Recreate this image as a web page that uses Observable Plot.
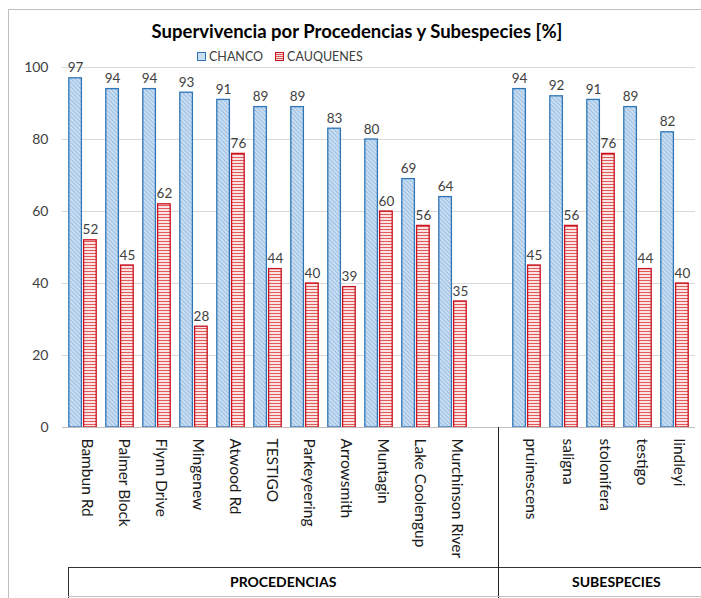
<!DOCTYPE html>
<html><head><meta charset="utf-8">
<script src="https://cdn.jsdelivr.net/npm/d3@7"></script>
<script src="https://cdn.jsdelivr.net/npm/@observablehq/plot@0.6"></script>
<style>
body{margin:0;background:#fff;font-family:Lato,"Open Sans",sans-serif;}
#wrap{position:relative;width:701px;height:598px;overflow:hidden;background:#fff}
#wrap svg{position:absolute;left:0;top:0}
.abs{position:absolute}
#frame{left:8px;top:9px;width:720px;height:600px;border:1px solid #bfbfbf;box-sizing:border-box}
#title{left:8px;width:698px;top:20px;text-align:center;font-weight:bold;font-size:18.5px;color:#000}
#legend{left:197px;top:49px;font-size:12.5px;color:#404040;display:flex;align-items:center;gap:3px}
#legend .sw{width:8px;height:8px;display:inline-block}
.grp{font-weight:bold;font-size:14px;color:#000;top:573px;transform:translateX(-50%)}
</style></head>
<body><div id="wrap">
<div id="frame" class="abs"></div>
</div>
<script>
const title = "Supervivencia por Procedencias y Subespecies [%]";
const seriesNames = ["CHANCO", "CAUQUENES"];
const procedencias = ["Bambun Rd","Palmer Block","Flynn Drive","Mingenew","Atwood Rd","TESTIGO","Parkeyeering","Arrowsmith","Muntagin","Lake Coolengup","Murchinson River"];
const subespecies = ["pruinescens","saligna","stolonifera","testigo","lindleyi"];
const chanco = [97,94,94,93,91,89,89,83,80,69,64, 94,92,91,89,82];
const cauquenes = [52,45,62,28,76,44,40,39,60,56,35, 45,56,76,44,40];
const groupNames = ["PROCEDENCIAS","SUBESPECIES"];
const yTicks = [0,20,40,60,80,100];

const blank = " ";
const categories = [...procedencias, ...subespecies];
const domain = [...procedencias, blank, ...subespecies];
const rows = categories.map((c,i)=>({cat:c, chanco:chanco[i], cauquenes:cauquenes[i]}));

const W = 701, H = 598;
const plot = Plot.plot({
  width: W, height: H,
  marginTop: 67, marginBottom: 171, marginLeft: 62, marginRight: 6,
  style: {fontFamily: "Lato, 'Open Sans', sans-serif", background: "transparent"},
  x: {domain, padding: 0, axis: null},
  y: {domain: [0,100], axis: null},
  marks: [
    Plot.gridY(yTicks, {stroke:"#d9d9d9", strokeOpacity:1, strokeWidth:1.2}),
    Plot.axisY(yTicks, {tickSize:0, tickPadding:14, fontSize:14, color:"#404040", textStroke:"none"}),
    Plot.barY(rows, {x:"cat", y:"chanco", insetLeft:4.8, insetRight:19.6, fill:"url(#hatchBlue)", stroke:"#2e75b6", strokeWidth:1.3}),
    Plot.barY(rows, {x:"cat", y:"cauquenes", insetLeft:19.6, insetRight:4.8, fill:"url(#linesRed)", stroke:"#c8101e", strokeWidth:1.3}),
    Plot.ruleY([0], {stroke:"#c0c0c0", strokeWidth:1.2}),
    Plot.text(rows, {x:"cat", y:"chanco", text:d=>String(d.chanco), dx:-7.4, dy:-6, lineAnchor:"bottom", fontSize:13.5, fill:"#404040"}),
    Plot.text(rows, {x:"cat", y:"cauquenes", text:d=>String(d.cauquenes), dx:7.4, dy:-6, lineAnchor:"bottom", fontSize:13.5, fill:"#404040"}),
    Plot.text(rows, {x:"cat", frameAnchor:"bottom", text:"cat", rotate:90, textAnchor:"start", lineAnchor:"middle", dx:4, dy:11, fontSize:15.5, fill:"#1a1a1a"})
  ]
});

// patterns
const ns = "http://www.w3.org/2000/svg";
const defs = document.createElementNS(ns, "defs");
defs.innerHTML = `
<pattern id="hatchBlue" patternUnits="userSpaceOnUse" width="3" height="3" patternTransform="rotate(-45)">
  <rect width="3" height="3" fill="#c9def2"/>
  <line x1="0" y1="0" x2="0" y2="3" stroke="#6d9fd2" stroke-width="1"/>
</pattern>
<pattern id="linesRed" patternUnits="userSpaceOnUse" width="4" height="3">
  <rect width="4" height="3" fill="#fbe3e3"/>
  <line x1="0" y1="1.5" x2="4" y2="1.5" stroke="#e05a5a" stroke-width="1"/>
</pattern>`;
plot.insertBefore(defs, plot.firstChild);

const wrap = document.getElementById("wrap");
wrap.appendChild(plot);

// Title
const t = document.createElement("div");
t.className = "abs"; t.id = "title"; t.textContent = title;
wrap.appendChild(t);

// Legend
const lg = document.createElement("div");
lg.className = "abs"; lg.id = "legend";
const swStyles = [
  "background:#c9def2;border:1px solid #2e75b6",
  "background:repeating-linear-gradient(#fbe3e3 0 1px,#e05a5a 1px 2px);border:1px solid #c8101e"
];
seriesNames.forEach((s,i)=>{
  const sw = document.createElement("span"); sw.className="sw"; sw.style.cssText = swStyles[i] + ";width:7px;height:7px";
  const tx = document.createElement("span"); tx.textContent = s; tx.style.marginRight = i===0 ? "9px" : "0";
  lg.appendChild(sw); lg.appendChild(tx);
});
wrap.appendChild(lg);

// Bottom category group box
const xs = plot.scale("x");
const sepX = xs.apply(blank) + xs.bandwidth * 0.74;
const y0 = plot.scale("y").apply(0);
function line(css){ const d=document.createElement("div"); d.className="abs"; d.style.cssText=css; wrap.appendChild(d); }
line(`left:68px;top:567px;width:${W-68}px;height:0;border-top:1.3px solid #333`);
line(`left:68px;top:567px;width:0;height:${H-567}px;border-left:1.3px solid #333`);
line(`left:${sepX}px;top:${y0}px;width:0;height:${H-y0}px;border-left:1.6px solid #222`);
line(`left:68px;top:596px;width:${W-68}px;height:0;border-top:1px solid #bfbfbf`);
const g1 = document.createElement("div"); g1.className="abs grp"; g1.textContent=groupNames[0]; g1.style.left = ((68+sepX)/2)+"px"; wrap.appendChild(g1);
const g2 = document.createElement("div"); g2.className="abs grp"; g2.textContent=groupNames[1]; g2.style.left = (sepX+118)+"px"; wrap.appendChild(g2);
</script>
</body></html>
